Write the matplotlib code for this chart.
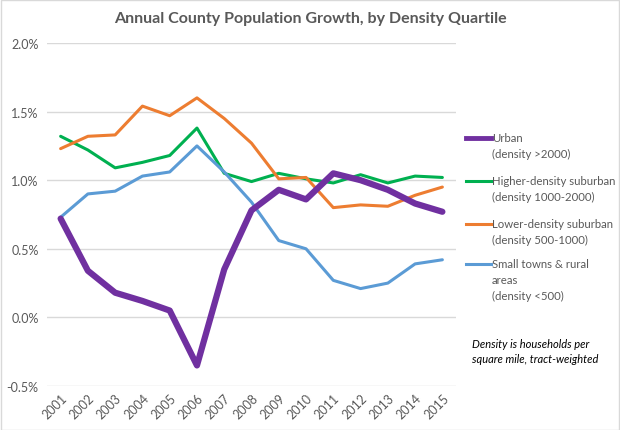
import matplotlib
matplotlib.use("Agg")
import matplotlib.pyplot as plt
from matplotlib.lines import Line2D
from matplotlib.patches import Rectangle

years = list(range(2001, 2016))
urban = [0.72, 0.34, 0.18, 0.12, 0.05, -0.35, 0.35, 0.78, 0.93, 0.86, 1.05, 1.00, 0.93, 0.83, 0.77]
higher = [1.32, 1.22, 1.09, 1.13, 1.18, 1.38, 1.05, 0.99, 1.05, 1.01, 0.98, 1.04, 0.98, 1.03, 1.02]
lower = [1.23, 1.32, 1.33, 1.54, 1.47, 1.60, 1.45, 1.27, 1.01, 1.02, 0.80, 0.82, 0.81, 0.89, 0.95]
small = [0.73, 0.90, 0.92, 1.03, 1.06, 1.25, 1.06, 0.84, 0.56, 0.50, 0.27, 0.21, 0.25, 0.39, 0.42]

labels = ["Urban\n(density >2000)",
          "Higher-density suburban\n(density 1000-2000)",
          "Lower-density suburban\n(density 500-1000)",
          "Small towns & rural\nareas\n(density <500)"]
colors = ["#7030A0", "#00B050", "#ED7D31", "#5B9BD5"]
widths = [4.5, 2.2, 2.2, 2.2]
yticks = [-0.5, 0.0, 0.5, 1.0, 1.5, 2.0]

plt.rcParams['font.family'] = ['Lato', 'DejaVu Sans']
fig = plt.figure(figsize=(6.2, 4.31), dpi=100)
ax = fig.add_axes([47/620, 1-387/431, (456-47)/620, (387-44)/431])

series = [urban, higher, lower, small]
order = [1, 2, 3, 0]
for i in order:
    ax.plot(years, series[i], color=colors[i], lw=widths[i], solid_capstyle='round', zorder=3 + (i == 0))

ax.set_ylim(-0.5, 2.0)
ax.set_xlim(2000.5, 2015.5)
ax.set_yticks(yticks)
ax.set_yticklabels([f"{v:.1f}%" for v in yticks], color="#595959", fontsize=9)
ax.set_xticks(years)
ax.set_xticklabels([str(y) for y in years], rotation=45, ha='right', rotation_mode='anchor',
                   color="#595959", fontsize=9)
ax.tick_params(length=0, pad=6)
ax.tick_params(axis='x', pad=4)
for s in ax.spines.values():
    s.set_visible(False)
ax.grid(axis='y', color="#D9D9D9", lw=1)
ax.set_axisbelow(True)

fig.text(0.5, 1-19/431, "Annual County Population Growth, by Density Quartile",
         ha='center', va='center', fontsize=11.5, fontweight='bold', color="#595959")

# legend
ys = [139, 182, 225, 265]
for lab, c, w, y in zip(labels, colors, widths, ys):
    fig.add_artist(Line2D([466/620, 491/620], [1-y/431, 1-y/431], color=c, lw=w if w < 3 else 3.5,
                          transform=fig.transFigure))
    fig.text(492/620, 1-(y-6)/431, lab, ha='left', va='top', fontsize=8.2, color="#595959",
             linespacing=1.55)

fig.text(472/620, 1-352/431, "Density is households per\nsquare mile, tract-weighted",
         ha='left', va='center', fontsize=8, style='italic', color="black", linespacing=1.4)

fig.add_artist(Rectangle((0.001, 0.001), 0.998, 0.997, transform=fig.transFigure,
                         fill=False, edgecolor="#D9D9D9", lw=1))

fig.savefig("out.png", dpi=100)
